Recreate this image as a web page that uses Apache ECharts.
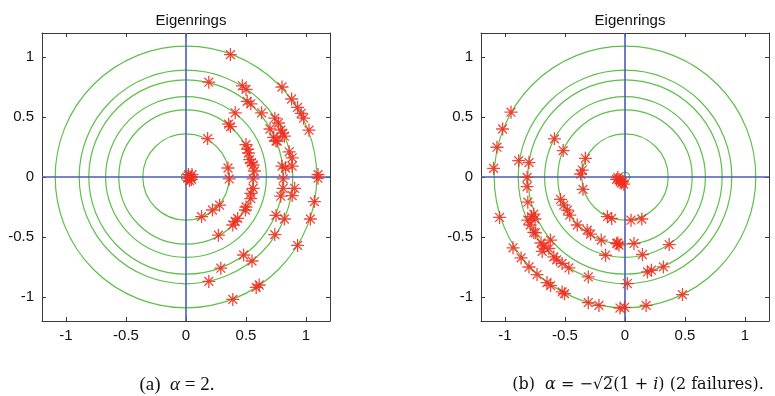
<!DOCTYPE html>
<html><head><meta charset="utf-8">
<script src="https://cdn.jsdelivr.net/npm/echarts@6/dist/echarts.min.js"></script>
<style>html,body{margin:0;padding:0;background:#fff}#c{width:775px;height:396px}</style>
</head><body><div id="c"></div>
<script>
// ---- data ----
const ringRadii = [0.04, 0.36, 0.56, 0.67, 0.81, 0.89, 1.09];
const tickValues = [-1, -0.5, 0, 0.5, 1];
const panelTitles = ['Eigenrings', 'Eigenrings'];
const eigA = [
 [0.37,1.02],[0.19,0.79],[0.47,0.76],[0.50,0.73],[0.80,0.75],[0.88,0.65],[0.51,0.63],[0.54,0.61],
 [0.93,0.58],[0.96,0.53],[0.98,0.49],[1.025,0.39],[0.41,0.535],[0.63,0.535],[0.355,0.44],[0.37,0.42],
 [0.74,0.49],[0.77,0.45],[0.70,0.40],[0.79,0.39],[0.73,0.33],[0.82,0.34],[0.75,0.30],[0.18,0.32],
 [0.50,0.27],[0.515,0.23],[0.52,0.20],[0.545,0.12],[0.86,0.21],[0.885,0.16],[0.53,0.145],[0.56,0.10],
 [0.80,0.09],[0.83,0.075],[0.885,0.09],[0.35,0.075],[0.57,0.05],[1.10,0.02],[0.805,0.365],[0.76,0.30],
 [0.02,0.02],[0.04,0.0],[0.03,-0.03],[0.05,0.02],[0.015,-0.01],[0.045,-0.02],
 [0.36,-0.016],[0.56,-0.016],[0.81,-0.016],[1.10,-0.01],[0.56,-0.095],[0.54,-0.136],[0.54,-0.18],
 [0.81,-0.094],[0.905,-0.094],[0.79,-0.16],[0.885,-0.155],[1.07,-0.205],[0.50,-0.25],[0.495,-0.275],
 [0.28,-0.235],[0.22,-0.275],[0.13,-0.33],[0.43,-0.345],[0.41,-0.37],[0.39,-0.40],[0.75,-0.32],
 [0.82,-0.35],[1.036,-0.35],[0.27,-0.485],[0.74,-0.48],[0.93,-0.57],[0.48,-0.65],[0.55,-0.70],
 [0.29,-0.76],[0.19,-0.87],[0.585,-0.92],[0.61,-0.90],[0.39,-1.02]
];
const eigB = [
 [-0.95,0.54],[-1.02,0.40],[-1.067,0.248],[-1.095,0.072],[-0.588,0.318],[-0.515,0.22],[-0.886,0.136],
 [-0.80,0.12],[-0.33,0.156],[-0.356,0.058],[-0.37,0.025],[-0.816,-0.003],[-0.816,-0.08],[-0.35,-0.103],
 [-0.05,-0.02],[-0.03,-0.05],[-0.01,-0.06],[-0.06,-0.005],[-0.04,-0.03],[-0.02,-0.04],[-0.07,-0.02],
 [-1.045,-0.337],[-0.537,-0.187],[-0.51,-0.234],[-0.48,-0.276],[-0.46,-0.317],[-0.81,-0.21],
 [-0.78,-0.33],[-0.76,-0.31],[-0.81,-0.36],[-0.75,-0.35],[-0.79,-0.40],[-0.746,-0.465],
 [-0.147,-0.331],[-0.111,-0.345],[0.05,-0.36],[0.14,-0.35],[-0.398,-0.40],[-0.315,-0.443],[-0.287,-0.476],
 [-0.933,-0.59],[-0.866,-0.674],[-0.80,-0.75],[-0.733,-0.813],[-0.65,-0.88],[-0.62,-0.905],
 [-0.524,-0.958],[-0.504,-0.972],[-0.76,-0.462],[-0.677,-0.574],[-0.621,-0.526],[-0.635,-0.596],
 [-0.70,-0.55],[-0.69,-0.62],[-0.593,-0.666],[-0.57,-0.69],[-0.524,-0.72],[-0.468,-0.758],
 [-0.198,-0.526],[-0.07,-0.554],[-0.05,-0.568],[-0.06,-0.55],[0.075,-0.554],[0.368,-0.563],
 [-0.162,-0.652],[0.145,-0.646],[-0.306,-0.833],[0.187,-0.791],[0.22,-0.777],[0.32,-0.749],
 [0.020,-0.888],[-0.306,-1.047],[-0.217,-1.07],[-0.042,-1.092],[-0.003,-1.086],[0.176,-1.07],[0.479,-0.98]
];

// ---- styling ----
const GREEN = '#5fbf4a', BLUE = '#4a5db3', RED = '#ef2d1f', FRAME = '#3a3a3a';
const STAR = 'path://M5,0L5,10M0,5L10,5M1.6,1.6L8.4,8.4M1.6,8.4L8.4,1.6';
const grids = [{left:42, top:33, width:288, height:288}, {left:481, top:33, width:288, height:288}];
const SANS = 'Liberation Sans';

function xAxes(g){
  const base = {gridIndex:g, type:'value', min:-1.2, max:1.2, splitLine:{show:false},
    axisLine:{show:true, onZero:false, lineStyle:{color:FRAME, width:1}},
    axisTick:{show:true, inside:true, length:4, customValues:tickValues, lineStyle:{color:FRAME}}};
  return [
    Object.assign({}, base, {position:'bottom', axisLabel:{show:true, customValues:tickValues, color:'#111', fontSize:15, margin:7, fontFamily:SANS}}),
    Object.assign({}, base, {position:'top', axisLabel:{show:false}})
  ];
}
function yAxes(g){
  const base = {gridIndex:g, type:'value', min:-1.2, max:1.2, splitLine:{show:false},
    axisLine:{show:true, onZero:false, lineStyle:{color:FRAME, width:1}},
    axisTick:{show:true, inside:true, length:4, customValues:tickValues, lineStyle:{color:FRAME}}};
  return [
    Object.assign({}, base, {position:'left', axisLabel:{show:true, customValues:tickValues, color:'#111', fontSize:15, margin:8, fontFamily:SANS}}),
    Object.assign({}, base, {position:'right', axisLabel:{show:false}})
  ];
}

const series = [];
[eigA, eigB].forEach((pts, g) => {
  series.push({
    type:'custom', xAxisIndex:2*g, yAxisIndex:2*g, z:1, silent:true, clip:false,
    data: ringRadii.map(r => [r]),
    renderItem: (params, api) => {
      const c = api.coord([0,0]);
      const r = api.size([api.value(0), 0])[0];
      return {type:'circle', shape:{cx:c[0], cy:c[1], r:r}, style:{fill:'none', stroke:GREEN, lineWidth:1.2}};
    }
  });
  series.push({
    type:'scatter', xAxisIndex:2*g, yAxisIndex:2*g, z:3, data:pts,
    symbol:STAR, symbolSize:13,
    itemStyle:{color:'rgba(0,0,0,0)', borderColor:RED, borderWidth:1.3, opacity:0.88},
    markLine:{silent:true, symbol:['none','none'], label:{show:false}, z:2,
      lineStyle:{color:BLUE, width:1.6, type:'solid'},
      emphasis:{disabled:true},
      data:[{xAxis:0},{yAxis:0}]}
  });
});

const chart = echarts.init(document.getElementById('c'));
chart.setOption({
  animation:false,
  grid: grids,
  xAxis: [...xAxes(0), ...xAxes(1)],
  yAxis: [...yAxes(0), ...yAxes(1)],
  title: panelTitles.map((t, i) => ({text:t, left: grids[i].left + grids[i].width/2, top:8, textAlign:'center',
     textStyle:{fontSize:15, fontWeight:'normal', color:'#111', fontFamily:SANS}})),
  graphic: [
    {type:'text', x:177, y:385, style:{
      text:'{n|(a)  }{i|α}{n| = 2.}', align:'center', verticalAlign:'middle',
      rich:{n:{fontFamily:'Liberation Serif', fontSize:19, fill:'#111'}, i:{fontFamily:'Liberation Serif', fontStyle:'italic', fontSize:19, fill:'#111'}}}},
    {type:'text', x:638, y:385, style:{
      text:'{n|(b)  }{i|α}{n| = −√2̅(1 + }{i|i}{n|) (2 failures).}', align:'center', verticalAlign:'middle',
      rich:{n:{fontFamily:'DejaVu Serif', fontSize:16, fill:'#111'}, i:{fontFamily:'DejaVu Serif', fontStyle:'italic', fontSize:16, fill:'#111'}}}}
  ],
  series: series
});
</script></body></html>
